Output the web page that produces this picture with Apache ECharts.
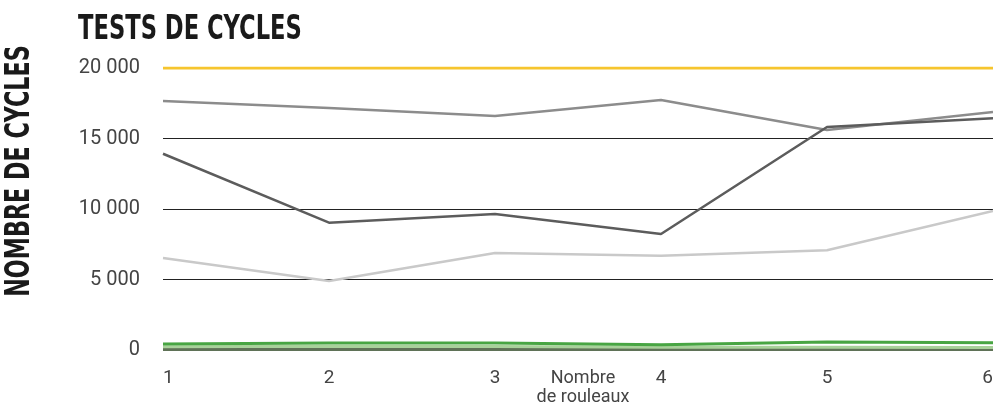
<!DOCTYPE html>
<html>
<head>
<meta charset="utf-8">
<script src="https://cdn.jsdelivr.net/npm/echarts@6/dist/echarts.min.js"></script>
<style>
html,body{margin:0;padding:0;background:#fff;}
#chart{width:993px;height:406px;}
</style>
</head>
<body>
<div id="chart"></div>
<script>
// categories: number of rollers
var rouleaux = ['1', '2', '3', '4', '5', '6'];
var yTicks = [0, 5000, 10000, 15000, 20000];

// series values
var objectif = [20000, 20000, 20000, 20000, 20000, 20000];
var grisMoyen = [17660, 17160, 16600, 17730, 15600, 16880];
var grisFonce = [13920, 9030, 9650, 8230, 15820, 16430];
var grisClair = [6520, 4890, 6880, 6690, 7070, 9860];
var vertVif = [430, 500, 500, 380, 560, 520];
var vertPale = [230, 260, 250, 200, 200, 180];
var vertFonce = [40, 40, 40, 30, 30, 30];

var titre = 'TESTS DE CYCLES';
var nomAxeY = 'NOMBRE DE CYCLES';
var nomAxeX = 'Nombre\nde rouleaux';

var font = "'DejaVu Sans Condensed', Roboto, sans-serif";
var fontLight = "Roboto, 'DejaVu Sans', sans-serif";

function fmt(v) {
    // "20 000" style
    return String(v).replace(/\B(?=(\d{3})+(?!\d))/g, ' ');
}

function ligne(name, data, color, width) {
    return {
        name: name,
        type: 'line',
        data: data,
        symbol: 'none',
        silent: true,
        lineStyle: {color: color, width: width},
        z: 3
    };
}

var mychart = echarts.init(document.getElementById('chart'));
var option = {
    animation: false,
    // titles drawn as graphic text so they can be squeezed like the condensed font
    graphic: [
        {
            type: 'text',
            x: 78, y: 30,
            scaleX: 0.74,
            style: {
                text: titre,
                font: 'bold 34px ' + font,
                fill: '#1a1a1a',
                textVerticalAlign: 'middle'
            }
        },
        {
            type: 'text',
            x: 20, y: 171,
            rotation: Math.PI / 2,
            scaleX: 0.75,
            style: {
                text: nomAxeY,
                font: 'bold 33px ' + font,
                fill: '#1a1a1a',
                textAlign: 'center',
                textVerticalAlign: 'middle'
            }
        }
    ],
    grid: {left: 163, right: 0, top: 68, bottom: 56, outerBoundsMode: 'none'},
    xAxis: {
        type: 'category',
        data: rouleaux,
        boundaryGap: false,
        axisLine: {show: false},
        axisTick: {show: false},
        axisLabel: {fontFamily: fontLight, fontSize: 19, color: '#444', margin: 19,
            alignMinLabel: 'left', alignMaxLabel: 'right'},
        name: nomAxeX,
        nameLocation: 'middle',
        nameGap: 19,
        nameMoveOverlap: false,
        nameTextStyle: {fontFamily: fontLight, fontSize: 18, color: '#444', lineHeight: 19,
            verticalAlign: 'top', padding: [0, 0, 0, 10]}
    },
    yAxis: {
        type: 'value',
        min: yTicks[0],
        max: yTicks[yTicks.length - 1],
        interval: 5000,
        axisLine: {show: false},
        axisTick: {show: false},
        axisLabel: {fontFamily: fontLight, fontSize: 20, color: '#444', margin: 23, formatter: fmt},
        splitLine: {lineStyle: {color: '#222', width: 1}}
    },
    series: [
        ligne('objectif', objectif, '#f6c52e', 3),
        ligne('gris moyen', grisMoyen, '#8c8c8c', 2.5),
        ligne('gris fonce', grisFonce, '#5c5c5c', 2.5),
        ligne('gris clair', grisClair, '#c9c9c9', 2.5),
        ligne('vert fonce', vertFonce, '#5f7257', 3),
        ligne('vert pale', vertPale, '#a8d19a', 3),
        ligne('vert vif', vertVif, '#48a543', 3)
    ]
};
mychart.setOption(option);
</script>
</body>
</html>
